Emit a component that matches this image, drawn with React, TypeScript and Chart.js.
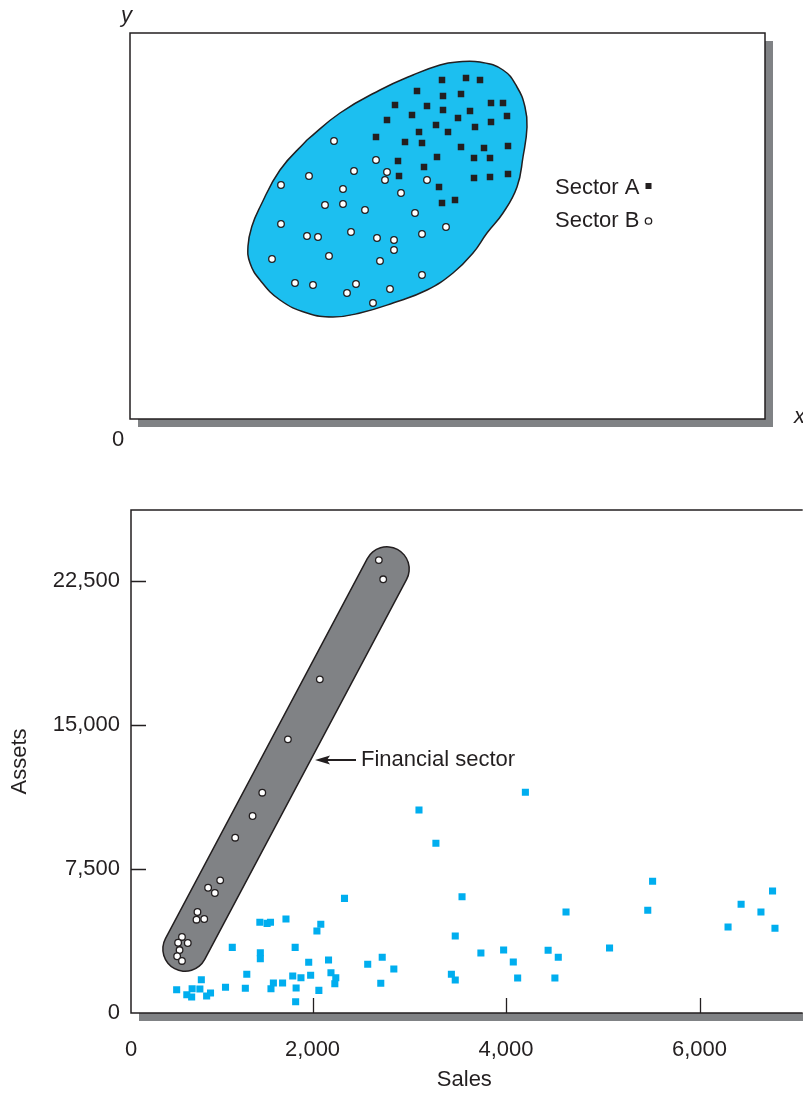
import React, { useEffect, useRef } from 'react';
import { Chart, registerables } from 'chart.js';

Chart.register(...registerables);

const FONT = '"Liberation Sans", Arial, Helvetica, sans-serif';
const INK = '#231f20';
const GREY = '#808285';
const BLOB = '#1cbff0';
const CYAN = '#00aeef';

// ---------------- Top panel (conceptual, unitless axes) ----------------
const TOP_X_MAX = 635;
const TOP_Y_MAX = 386;

const sectorA: [number, number][] = [
  [312, 339], [336, 341], [350, 339], [287, 328], [313, 323], [331, 325], [265, 314], [297, 313],
  [313, 309], [340, 308], [361, 316], [373, 316], [257, 299], [282, 304], [328, 301], [377, 303],
  [306, 294], [345, 292], [361, 297], [246, 282], [289, 287], [318, 287], [275, 277], [292, 276],
  [331, 272], [354, 271], [378, 273], [307, 262], [344, 261], [360, 261], [268, 258], [294, 252],
  [269, 243], [344, 241], [360, 242], [378, 245], [309, 232], [312, 216], [325, 219],
];

const sectorB: [number, number][] = [
  [204, 278], [246, 259], [224, 248], [257, 247], [255, 239], [297, 239], [179, 243], [151, 234],
  [213, 230], [271, 226], [195, 214], [213, 215], [235, 209], [285, 206], [151, 195], [316, 192],
  [177, 183], [188, 182], [221, 187], [247, 181], [264, 179], [292, 185], [264, 169], [142, 160],
  [199, 163], [250, 158], [292, 144], [165, 136], [183, 134], [226, 135], [217, 126], [260, 130],
  [243, 116],
];

const clusterOutline: [number, number][] = [
  [177, 279], [210, 306], [250, 329], [283, 344], [310, 354], [327, 357], [350, 357], [373, 349],
  [387, 332], [395, 312], [397, 292], [393, 262], [387, 232], [373, 206], [357, 186], [343, 166],
  [323, 146], [297, 129], [263, 116], [230, 106], [203, 102], [177, 106], [150, 119], [130, 139],
  [120, 156], [118, 173], [122, 193], [130, 212], [150, 249], [177, 279],
];

// ---------------- Bottom panel: Sales vs Assets ----------------
const SALES_MIN = 123;
const SALES_MAX = 7015;
const ASSETS_MAX = 26200;
const salesTicks = [2000, 4000, 6000];
const assetsTicks = [0, 7500, 15000, 22500];

const financial: [number, number][] = [
  [2685, 23590], [2730, 22590], [2075, 17380], [1745, 14255], [1480, 11475], [1380, 10260],
  [1200, 9130], [1045, 6910], [920, 6525], [990, 6250], [810, 5260], [800, 4860], [880, 4895],
  [650, 3960], [610, 3660], [710, 3645], [625, 3280], [600, 2955], [650, 2710],
];

const otherSectors: [number, number][] = [
  [2330, 5970], [1455, 4725], [1530, 4670], [1565, 4725], [1725, 4895], [2085, 4620], [2045, 4270],
  [1170, 3420], [1820, 3420], [1460, 3140], [1460, 2830], [1960, 2640], [2165, 2760], [2570, 2535],
  [2720, 2900], [2840, 2290], [850, 1735], [1320, 2015], [1795, 1925], [1880, 1840], [1980, 1965],
  [2190, 2100], [2240, 1840], [2230, 1525], [1595, 1565], [1690, 1565], [595, 1215], [755, 1265],
  [835, 1250], [700, 955], [750, 835], [905, 885], [945, 1040], [1100, 1340], [1305, 1285],
  [1570, 1265], [1830, 1300], [1825, 590], [2065, 1180], [2705, 1545], [3475, 4010], [3435, 2015],
  [3475, 1720], [4200, 11495], [3100, 10575], [3275, 8840], [3545, 6055], [4620, 5260], [3740, 3125],
  [3975, 3280], [4075, 2655], [4435, 3265], [4540, 2900], [5070, 3385], [5515, 6860], [5465, 5350],
  [4120, 1825], [4505, 1825], [6295, 4480], [6430, 5660], [6635, 5260], [6755, 6355], [6780, 4410],
];

// centre line of the rounded band enclosing the financial sector
const financialBand: [number, number][] = [[682, 3333], [2769, 23125]];

const toXY = (a: [number, number][]) => a.map(([x, y]) => ({ x, y }));

const topFrame = {
  id: 'topFrame',
  beforeDraw(chart: any) {
    const { ctx, chartArea: { left, top, right, bottom } } = chart;
    ctx.save();
    ctx.fillStyle = GREY;
    ctx.fillRect(left + 8, top + 8, right - left, bottom - top);
    ctx.fillStyle = '#ffffff';
    ctx.fillRect(left, top, right - left, bottom - top);
    ctx.strokeStyle = INK;
    ctx.lineWidth = 1.5;
    ctx.strokeRect(left, top, right - left, bottom - top);
    ctx.restore();
  },
  afterDraw(chart: any) {
    const { ctx } = chart;
    ctx.save();
    ctx.fillStyle = INK;
    ctx.textBaseline = 'alphabetic';
    ctx.textAlign = 'left';
    ctx.font = `italic 22px ${FONT}`;
    ctx.fillText('y', 121, 22);
    ctx.fillText('x', 794, 423);
    ctx.font = `22px ${FONT}`;
    ctx.fillText('0', 112, 446);
    ctx.fillText('Sector A', 555, 194);
    ctx.fillText('Sector B', 555, 227);
    ctx.fillRect(645.5, 183, 6, 6);
    ctx.beginPath();
    ctx.arc(648.5, 221, 3.2, 0, Math.PI * 2);
    ctx.fillStyle = '#ffffff';
    ctx.fill();
    ctx.lineWidth = 1.3;
    ctx.strokeStyle = INK;
    ctx.stroke();
    ctx.restore();
  },
};

const bottomFrame = {
  id: 'bottomFrame',
  beforeDraw(chart: any) {
    const { ctx, chartArea: { left, top, right, bottom } } = chart;
    ctx.save();
    ctx.fillStyle = GREY;
    ctx.fillRect(left + 8, top + 8, right - left + 20, bottom - top);
    ctx.fillStyle = '#ffffff';
    ctx.fillRect(left, top, right - left + 20, bottom - top);
    ctx.strokeStyle = INK;
    ctx.lineWidth = 1.5;
    ctx.beginPath();
    ctx.moveTo(right + 5, top);
    ctx.lineTo(left, top);
    ctx.lineTo(left, bottom);
    ctx.lineTo(right + 5, bottom);
    ctx.stroke();
    const xs = chart.scales.x;
    const ys = chart.scales.y;
    ctx.lineWidth = 1.3;
    ctx.beginPath();
    salesTicks.forEach((v) => {
      const px = Math.round(xs.getPixelForValue(v)) + 0.5;
      ctx.moveTo(px, bottom);
      ctx.lineTo(px, bottom - 15);
    });
    assetsTicks.filter((v) => v > 0).forEach((v) => {
      const py = Math.round(ys.getPixelForValue(v)) + 0.5;
      ctx.moveTo(left, py);
      ctx.lineTo(left + 15, py);
    });
    ctx.stroke();
    ctx.restore();
  },
  afterDraw(chart: any) {
    const { ctx } = chart;
    ctx.save();
    ctx.strokeStyle = INK;
    ctx.fillStyle = INK;
    ctx.lineWidth = 2;
    ctx.beginPath();
    ctx.moveTo(356, 300);
    ctx.lineTo(326, 300);
    ctx.stroke();
    ctx.beginPath();
    ctx.moveTo(315, 300);
    ctx.lineTo(330, 295.5);
    ctx.lineTo(327, 300);
    ctx.lineTo(330, 304.5);
    ctx.closePath();
    ctx.fill();
    ctx.font = `22px ${FONT}`;
    ctx.textAlign = 'left';
    ctx.textBaseline = 'alphabetic';
    ctx.fillText('Financial sector', 361, 306);
    ctx.restore();
  },
};

function topConfig(): any {
  return {
    type: 'scatter',
    data: {
      datasets: [
        {
          label: 'Sector A', data: toXY(sectorA), pointStyle: 'rect', pointRadius: 4.6,
          backgroundColor: INK, borderColor: INK, borderWidth: 0, order: 0,
        },
        {
          label: 'Sector B', data: toXY(sectorB), pointStyle: 'circle', pointRadius: 3.3,
          backgroundColor: '#ffffff', borderColor: INK, borderWidth: 1.3, order: 1,
        },
        {
          type: 'line', label: 'cluster', data: toXY(clusterOutline), showLine: true, tension: 0.45,
          fill: 'shape', backgroundColor: BLOB, borderColor: INK, borderWidth: 1.5, pointRadius: 0, order: 2,
        },
      ],
    },
    options: {
      responsive: false,
      animation: false,
      events: [],
      layout: { padding: { left: 130, top: 33, right: 38, bottom: 41 } },
      scales: {
        x: { type: 'linear', min: 0, max: TOP_X_MAX, display: false },
        y: { type: 'linear', min: 0, max: TOP_Y_MAX, display: false },
      },
      plugins: { legend: { display: false }, tooltip: { enabled: false } },
    },
    plugins: [topFrame],
  };
}

function bottomConfig(): any {
  const tickFont = { family: FONT, size: 22 };
  return {
    type: 'scatter',
    data: {
      datasets: [
        {
          label: 'Financial sector', data: toXY(financial), pointStyle: 'circle', pointRadius: 3.3,
          backgroundColor: '#ffffff', borderColor: INK, borderWidth: 1.3, order: 0,
        },
        {
          label: 'Other sectors', data: toXY(otherSectors), pointStyle: 'rect', pointRadius: 5,
          backgroundColor: CYAN, borderColor: CYAN, borderWidth: 0, order: 1,
        },
        {
          type: 'line', label: 'band', data: toXY(financialBand), showLine: true, borderColor: GREY,
          borderWidth: 43, borderCapStyle: 'round', pointRadius: 0, fill: false, order: 2,
        },
        {
          type: 'line', label: 'band outline', data: toXY(financialBand), showLine: true, borderColor: INK,
          borderWidth: 46, borderCapStyle: 'round', pointRadius: 0, fill: false, order: 3,
        },
      ],
    },
    options: {
      responsive: false,
      animation: false,
      events: [],
      layout: { padding: { left: 0, top: 50, right: 0, bottom: 0 } },
      scales: {
        x: {
          type: 'linear', min: SALES_MIN, max: SALES_MAX,
          grid: { display: false, drawTicks: false }, border: { display: false },
          afterBuildTicks: (s: any) => { s.ticks = [SALES_MIN, ...salesTicks].map((v) => ({ value: v })); },
          afterFit: (s: any) => { s.height = 80; },
          ticks: {
            autoSkip: false, maxRotation: 0, minRotation: 0, padding: 24, color: INK, font: tickFont,
            callback: (v: any) => (v === SALES_MIN ? '0' : Number(v).toLocaleString('en-US')),
          },
          title: { display: true, text: 'Sales', color: INK, font: tickFont, padding: { top: 0, bottom: 0 } },
        },
        y: {
          type: 'linear', min: 0, max: ASSETS_MAX,
          grid: { display: false, drawTicks: false }, border: { display: false },
          afterBuildTicks: (s: any) => { s.ticks = assetsTicks.map((v) => ({ value: v })); },
          afterFit: (s: any) => { s.width = 131; },
          ticks: {
            autoSkip: false, padding: 11, color: INK, font: tickFont,
            callback: (v: any) => Number(v).toLocaleString('en-US'),
          },
          title: { display: true, text: 'Assets', color: INK, font: tickFont, padding: { top: 7, bottom: 0 } },
        },
      },
      plugins: { legend: { display: false }, tooltip: { enabled: false } },
    },
    plugins: [bottomFrame],
  };
}

export default function App() {
  const topRef = useRef<HTMLCanvasElement>(null);
  const botRef = useRef<HTMLCanvasElement>(null);
  useEffect(() => {
    const c1 = new Chart(topRef.current as HTMLCanvasElement, topConfig());
    const c2 = new Chart(botRef.current as HTMLCanvasElement, bottomConfig());
    return () => {
      c1.destroy();
      c2.destroy();
    };
  }, []);
  return (
    <div style={{ position: 'absolute', left: 0, top: 0, width: 803, height: 1093, background: '#ffffff', overflow: 'hidden' }}>
      <canvas ref={topRef} width={803} height={460} style={{ position: 'absolute', left: 0, top: 0 }} />
      <canvas ref={botRef} width={803} height={633} style={{ position: 'absolute', left: 0, top: 460 }} />
    </div>
  );
}
